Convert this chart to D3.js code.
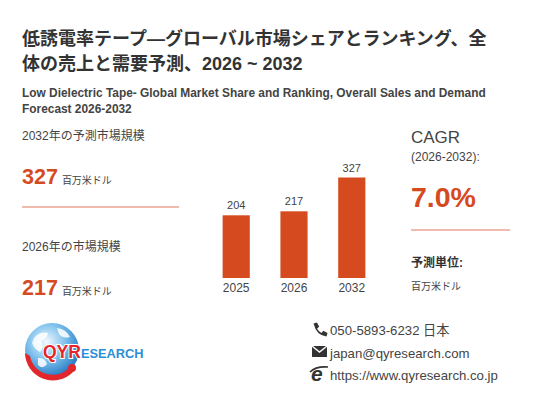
<!DOCTYPE html>
<html lang="ja">
<head>
<meta charset="UTF-8">
<title>低誘電率テープ 市場規模</title>
<script src="https://d3js.org/d3.v7.min.js"></script>
<style>
  body { margin: 0; background: #fff; }
  svg { display: block; font-family: "Liberation Sans", Arial, "Noto Sans CJK JP", sans-serif; }
</style>
</head>
<body>
<svg width="533" height="400"></svg>
<script>
// data
const years = ["2025", "2026", "2032"];
const sales = [204, 217, 327];
const titleLines = ["低誘電率テープ―グローバル市場シェアとランキング、全", "体の売上と需要予測、2026 ~ 2032"];
const subtitleLines = ["Low Dielectric Tape- Global Market Share and Ranking, Overall Sales and Demand", "Forecast 2026-2032"];
const unit = "百万米ドル";
const cagr = "7.0%";
const contacts = ["050-5893-6232 日本", "japan@qyresearch.com", "https://www.qyresearch.co.jp"];

const red = "#d64a1f", dark = "#333", grey = "#444", rule = "#eba594";
const svg = d3.select("svg");

// title
svg.append("g").selectAll("text").data(titleLines).join("text")
  .attr("x", 22).attr("y", (d, i) => 45 + i * 25)
  .attr("font-size", 18).attr("font-weight", "bold").attr("fill", dark)
  .text(d => d);
svg.append("g").selectAll("text").data(subtitleLines).join("text")
  .attr("x", 22).attr("y", (d, i) => 97 + i * 16)
  .attr("font-size", 11.9).attr("font-weight", "bold").attr("fill", grey)
  .text(d => d);

// left column
function bigValue(y, label, value) {
  svg.append("text").attr("x", 22).attr("y", y).attr("font-size", 12).attr("fill", grey).text(label);
  const t = svg.append("text").attr("x", 22).attr("y", y + 44);
  t.append("tspan").attr("font-size", 21.5).attr("font-weight", "bold").attr("fill", red).text(value);
  t.append("tspan").attr("dx", 4).attr("font-size", 10).attr("fill", grey).text(unit);
}
bigValue(140, "2032年の予測市場規模", sales[2]);
svg.append("line").attr("x1", 22).attr("x2", 179).attr("y1", 207).attr("y2", 207)
  .attr("stroke", rule).attr("stroke-width", 1.5);
bigValue(251, "2026年の市場規模", sales[1]);

// bars
const x = d3.scaleBand().domain(years).range([192, 396]).padding(0.53);
const y = d3.scaleLinear().domain([0, d3.max(sales)]).range([278, 177.5]);
const bars = svg.append("g").selectAll("g").data(years.map((d, i) => ({year: d, v: sales[i]}))).join("g");
bars.append("rect")
  .attr("x", d => x(d.year)).attr("width", x.bandwidth())
  .attr("y", d => y(d.v)).attr("height", d => y(0) - y(d.v))
  .attr("fill", red);
bars.append("text")
  .attr("x", d => x(d.year) + x.bandwidth() / 2).attr("y", d => y(d.v) - 6)
  .attr("text-anchor", "middle").attr("font-size", 11).attr("fill", grey)
  .text(d => d.v);
bars.append("text")
  .attr("x", d => x(d.year) + x.bandwidth() / 2).attr("y", 292)
  .attr("text-anchor", "middle").attr("font-size", 12).attr("fill", grey)
  .text(d => d.year);

// right column
svg.append("text").attr("x", 411).attr("y", 143).attr("font-size", 17).attr("fill", grey).text("CAGR");
svg.append("text").attr("x", 411).attr("y", 161).attr("font-size", 12).attr("fill", grey).text("(2026-2032):");
svg.append("text").attr("x", 411).attr("y", 207).attr("font-size", 28.5).attr("font-weight", "bold").attr("fill", red).text(cagr);
svg.append("line").attr("x1", 411).attr("x2", 510).attr("y1", 230).attr("y2", 230)
  .attr("stroke", rule).attr("stroke-width", 1.5);
svg.append("text").attr("x", 411).attr("y", 267).attr("font-size", 12).attr("font-weight", "bold").attr("fill", dark).text("予測単位:");
svg.append("text").attr("x", 411).attr("y", 290).attr("font-size", 10).attr("fill", grey).text(unit);

// logo
const defs = svg.append("defs");
const grad = defs.append("radialGradient").attr("id", "globe").attr("cx", "40%").attr("cy", "35%").attr("r", "70%");
grad.append("stop").attr("offset", "0%").attr("stop-color", "#f2f9fe");
grad.append("stop").attr("offset", "50%").attr("stop-color", "#7cc0ec");
grad.append("stop").attr("offset", "100%").attr("stop-color", "#1d72bd");
const logo = svg.append("g");
logo.append("circle").attr("cx", 52).attr("cy", 350).attr("r", 27).attr("fill", "url(#globe)");
// rough land shapes
logo.append("path")
  .attr("d", "M34 338 q6 -7 14 -5 q-1 6 -7 8 q4 6 -1 11 q-6 -3 -8 -9 z M57 328 q9 1 13 9 q-7 2 -11 -3 z M38 358 q7 -1 9 6 q-4 6 -9 1 z M60 344 q5 2 3 7 q-4 0 -3 -7 z")
  .attr("fill", "#fff").attr("opacity", 0.85);
// red swoosh
logo.append("path")
  .attr("d", "M25 353 A28 28 0 0 0 73 372 L69 368 A23 23 0 0 1 30 356 Z")
  .attr("fill", "#e2262b");
logo.append("circle").attr("cx", 72).attr("cy", 368).attr("r", 4).attr("fill", "#e2262b");
const lt = logo.append("text").attr("x", 43).attr("y", 358).attr("font-weight", "bold")
  .attr("stroke", "#fff").attr("stroke-width", 2).attr("paint-order", "stroke");
lt.append("tspan").attr("font-size", 17.5).attr("fill", "#e2262b").text("QYR");
lt.append("tspan").attr("font-size", 12.8).attr("fill", "#2a8fd6").text("ESEARCH");

// contacts
svg.append("g").selectAll("text").data(contacts).join("text")
  .attr("x", 330).attr("y", (d, i) => 335 + i * 22.5)
  .attr("font-size", 13.2).attr("fill", grey).text(d => d);
// icons
const ic = svg.append("g").attr("fill", "#333");
ic.append("path")
  .attr("d", "M313.5 323.5 l3.5 -1 l2.2 4.2 l-2.2 1.8 q1.5 3 4.5 4.5 l1.8 -2.2 l4.2 2.2 l-1 3.5 q-10 -1 -13 -13 z");
ic.append("rect").attr("x", 312).attr("y", 346).attr("width", 15).attr("height", 11);
ic.append("path").attr("d", "M312 346 l7.5 6 l7.5 -6").attr("fill", "none").attr("stroke", "#fff").attr("stroke-width", 1.4);
ic.append("text").attr("x", 311).attr("y", 381).attr("font-size", 21).attr("font-style", "italic").attr("font-weight", "bold")
  .attr("font-family", "Liberation Sans, sans-serif").text("e");
ic.append("path").attr("d", "M310 372 q6 -6 18 -5").attr("fill", "none").attr("stroke", "#333").attr("stroke-width", 1.6);
</script>
</body>
</html>
